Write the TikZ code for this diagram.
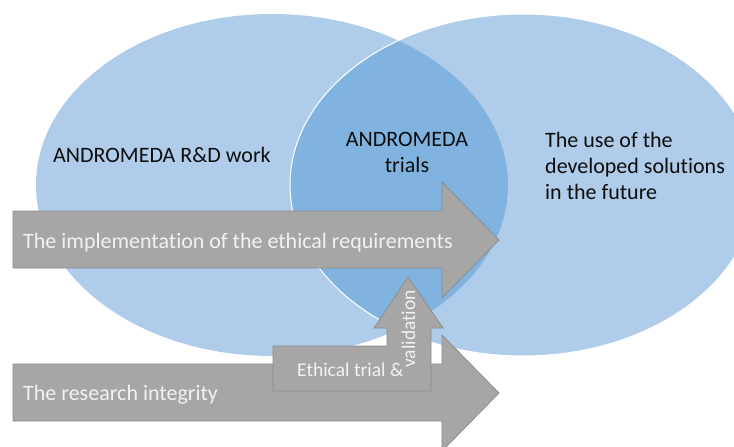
\documentclass[tikz,border=0pt]{standalone}
\usepackage{fontspec}
\setmainfont[Ligatures=NoCommon]{Carlito}
\definecolor{lightblue}{RGB}{175,205,234}
\definecolor{lensblue}{RGB}{128,179,223}
\definecolor{arrowgray}{RGB}{166,166,166}
\definecolor{arrowedge}{RGB}{140,140,140}
\definecolor{darktext}{RGB}{13,13,13}
\definecolor{lighttext}{RGB}{242,242,242}
\tikzset{
  arrowshape/.style={fill=arrowgray, draw=arrowedge, line width=0.8pt, line join=miter},
  bluelabel/.style={text=darktext, font=\fontsize{22}{26}\selectfont, inner sep=0pt},
  arrowlabel/.style={text=lighttext, font=\fontsize{22}{26}\selectfont, inner sep=0pt},
  smalllabel/.style={text=lighttext, font=\fontsize{19.5}{23}\selectfont, inner sep=0pt},
}
\begin{document}
\begin{tikzpicture}[x=1pt,y=-1pt]
\useasboundingbox (0,0) rectangle (734,447);
\fill[white] (0,0) rectangle (734,447);

% the two sets
\fill[lightblue] (272,185) ellipse [x radius=236, y radius=171];
\fill[lightblue] (523,185) ellipse [x radius=233, y radius=171];
% their overlap
\begin{scope}
  \clip (272,185) ellipse [x radius=236, y radius=171];
  \fill[lensblue] (523,185) ellipse [x radius=233, y radius=171];
\end{scope}
\draw[white, line width=1pt] (523,185) ellipse [x radius=233, y radius=171];

% set labels (base = baseline of the last line)
\node[bluelabel, anchor=base west] (rd) at (53,162) {ANDROMEDA R\&D work};
\node[bluelabel, anchor=base, align=center] (trials) at (407,172) {ANDROMEDA\\trials};
\node[bluelabel, anchor=base west, align=left] (future) at (545,199) {The use of the\\developed solutions\\in the future};

% upper block arrow
\draw[arrowshape] (13,211) -- (442,211) -- (442,182) -- (499,240) -- (442,298) -- (442,268) -- (13,268) -- cycle;
\node[arrowlabel, anchor=base west] (ethreq) at (23,248) {The implementation of the ethical requirements};

% lower block arrow
\draw[arrowshape] (13,364) -- (442,364) -- (442,335) -- (499,393) -- (442,451) -- (442,421) -- (13,421) -- cycle;
\node[arrowlabel, anchor=base west] (integrity) at (23,400) {The research integrity};

% bent-up arrow
\draw[arrowshape] (273,346) -- (387,346) -- (387,328) -- (374,328) -- (408,277) -- (443,328) -- (431,328) -- (431,391) -- (273,391) -- cycle;
\node[smalllabel, anchor=base west] (ethtrial) at (297,376) {Ethical trial \&};
\node[smalllabel, anchor=base west, rotate=90] (valid) at (415,368) {validation};
\end{tikzpicture}
\end{document}
